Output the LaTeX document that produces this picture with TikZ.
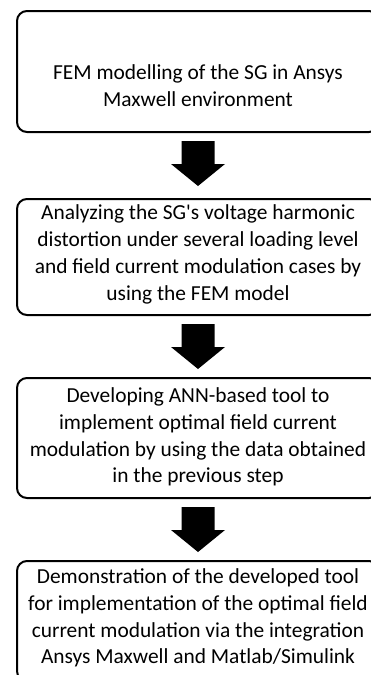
\documentclass[tikz,border=0pt]{standalone}
\usepackage{fontspec}
\setmainfont{Carlito}[Ligatures=TeXOff]
\usetikzlibrary{calc}
% block arrow hanging below a box
\newcommand\flowarrow[1]{%
  \fill ($(#1.south)+(-16.5,-8)$) -- ++(33,0) -- ++(0,-23) -- ++(10.5,0)
    -- ++(-27,-22) -- ++(-27,22) -- ++(10.5,0) -- cycle;}
\begin{document}
\begin{tikzpicture}[x=1pt,y=1pt,
  stepbox/.style={draw=black, line width=2pt, rounded corners=10pt,
    minimum width=362pt, inner sep=0pt},
  steptext/.style={align=center, inner sep=0pt,
    font=\fontsize{21.4}{26.8}\selectfont},
]
\useasboundingbox (0,0) rectangle (371,-675);
\clip (0,0) rectangle (371,-675);

\node[stepbox, minimum height=121pt] (b1) at (198,-71.5) {};
\node[stepbox, minimum height=116pt] (b2) at (198,-257) {};
\node[stepbox, minimum height=120pt] (b3) at (198,-438) {};
\node[stepbox, minimum height=120pt] (b4) at (198,-621) {};

\node[steptext] (t1) at (198,-85.5) {FEM modelling of the SG in Ansys\\Maxwell environment};
\node[steptext] (t2) at (198,-254.5) {Analyzing the SG's voltage harmonic\\distortion under several loading level\\and field current modulation cases by\\using the FEM model};
\node[steptext] (t3) at (198,-437) {Developing ANN-based tool to\\implement optimal field current\\modulation by using the data obtained\\in the previous step};
\node[steptext] (t4) at (198,-618) {Demonstration of the developed tool\\for implementation of the optimal field\\current modulation via the integration\\Ansys Maxwell and Matlab/Simulink};

\flowarrow{b1}
\flowarrow{b2}
\flowarrow{b3}
\end{tikzpicture}
\end{document}
